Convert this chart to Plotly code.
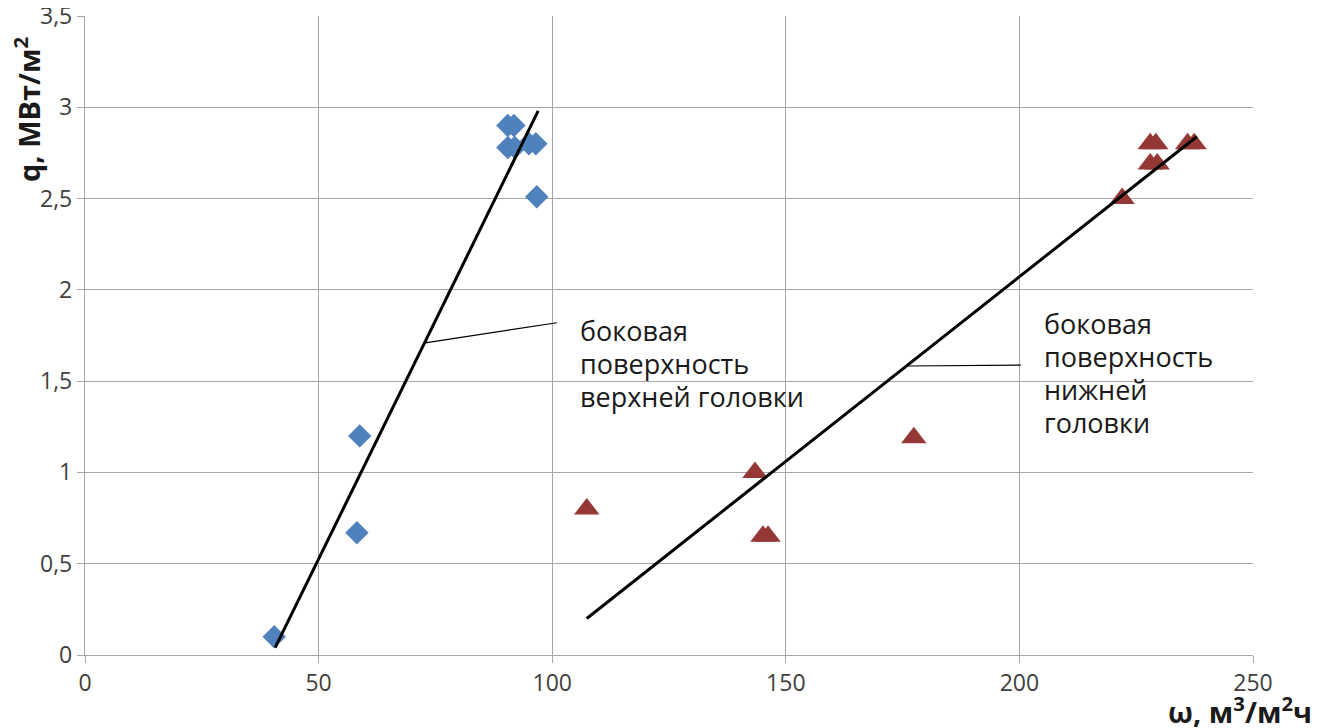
import plotly.graph_objects as go

# Upper head side surface (blue diamonds)
upper_x = [40.5, 58.2, 58.8, 90.5, 91.8, 90.5, 92.0, 95.0, 96.5, 96.7]
upper_y = [0.10, 0.67, 1.20, 2.90, 2.90, 2.78, 2.78, 2.80, 2.80, 2.51]
upper_trend_x = [40.7, 97.0]
upper_trend_y = [0.04, 2.98]

# Lower head side surface (red triangles)
lower_x = [107.4, 143.4, 145.1, 146.2, 177.4, 222.0, 228.0, 229.2, 228.0, 229.5, 236.0, 237.4]
lower_y = [0.80, 1.00, 0.65, 0.65, 1.19, 2.50, 2.80, 2.80, 2.69, 2.69, 2.80, 2.80]
lower_trend_x = [107.4, 238.0]
lower_trend_y = [0.20, 2.84]

# Leader lines for labels
leader1_x = [72.8, 101.0]
leader1_y = [1.71, 1.82]
leader2_x = [176.0, 200.3]
leader2_y = [1.583, 1.588]

label1 = ["боковая", "поверхность", "верхней головки"]
label2 = ["боковая", "поверхность", "нижней", "головки"]

x_ticks = [0, 50, 100, 150, 200, 250]
y_ticks = [0, 0.5, 1, 1.5, 2, 2.5, 3, 3.5]
y_tick_text = ["0", "0,5", "1", "1,5", "2", "2,5", "3", "3,5"]

FONT = "Open Sans"
fig = go.Figure()

fig.add_trace(go.Scatter(x=upper_x, y=upper_y, mode="markers",
                         marker=dict(symbol="diamond", size=18, color="#4F81BD"),
                         showlegend=False, cliponaxis=False))
fig.add_trace(go.Scatter(x=lower_x, y=lower_y, mode="markers",
                         marker=dict(symbol="triangle-up", size=22, color="#953735"),
                         showlegend=False, cliponaxis=False))
fig.add_trace(go.Scatter(x=upper_trend_x, y=upper_trend_y, mode="lines",
                         line=dict(color="black", width=3), showlegend=False))
fig.add_trace(go.Scatter(x=lower_trend_x, y=lower_trend_y, mode="lines",
                         line=dict(color="black", width=3), showlegend=False))
fig.add_trace(go.Scatter(x=leader1_x, y=leader1_y, mode="lines",
                         line=dict(color="black", width=1.2), showlegend=False))
fig.add_trace(go.Scatter(x=leader2_x, y=leader2_y, mode="lines",
                         line=dict(color="black", width=1.2), showlegend=False))

annotations = []
line_step = 33 / 182.6  # one text line in data units
for i, t in enumerate(label1):
    annotations.append(dict(x=105.5, y=(655 - 330) / 182.6 - i * line_step, xref="x", yref="y",
                            text=t, showarrow=False, xanchor="left", yanchor="middle",
                            font=dict(family=FONT, size=27, color="#1a1a1a")))
for i, t in enumerate(label2):
    annotations.append(dict(x=204.8, y=(655 - 323) / 182.6 - i * line_step, xref="x", yref="y",
                            text=t, showarrow=False, xanchor="left", yanchor="middle",
                            font=dict(family=FONT, size=27, color="#1a1a1a")))
annotations.append(dict(x=(27 - 85) / 1168, y=(655 - 110) / 639, xref="paper", yref="paper",
                        text="<b>q, МВт/м<sup>2</sup></b>", showarrow=False, textangle=-90,
                        xanchor="center", yanchor="middle",
                        font=dict(family=FONT, size=29, color="#1a1a1a")))
annotations.append(dict(x=(1240 - 85) / 1168, y=(655 - 710) / 639, xref="paper", yref="paper",
                        text="<b>ω, м<sup>3</sup>/м<sup>2</sup>ч</b>", showarrow=False,
                        xanchor="center", yanchor="middle",
                        font=dict(family=FONT, size=29, color="#1a1a1a")))

fig.update_layout(
    template="none",
    width=1317, height=720,
    margin=dict(l=77, r=72, t=8, b=73, pad=0),
    plot_bgcolor="white", paper_bgcolor="white",
    annotations=annotations,
    font=dict(family=FONT, size=22, color="#404040"),
)
fig.update_xaxes(range=[0, 250], tickvals=x_ticks, showgrid=True, gridcolor="#a6a6a6",
                 gridwidth=1.3, zeroline=False, showline=True, linecolor="#a6a6a6",
                 linewidth=1.3, ticks="outside", ticklen=7, tickcolor="#a6a6a6",
                 automargin=False, ticklabeloverflow="allow",
                 tickfont=dict(family=FONT, size=23, color="#404040"))
fig.update_yaxes(range=[0, 3.5], tickvals=y_ticks, ticktext=y_tick_text, showgrid=True,
                 gridcolor="#a6a6a6", gridwidth=1.3, zeroline=False, showline=True,
                 linecolor="#a6a6a6", linewidth=1.3, ticks="outside", ticklen=7,
                 tickcolor="#a6a6a6", automargin=False, ticklabeloverflow="allow",
                 tickfont=dict(family=FONT, size=23, color="#404040"))

fig.write_html("out.html")
